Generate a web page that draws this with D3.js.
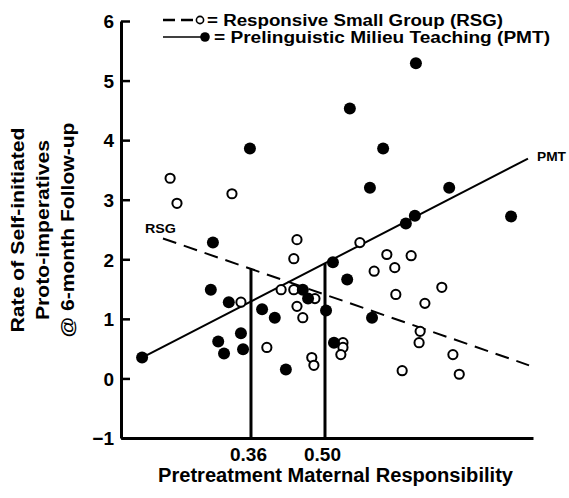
<!DOCTYPE html>
<html>
<head>
<meta charset="utf-8">
<script src="https://cdn.jsdelivr.net/npm/d3@7"></script>
<style>
  body { margin: 0; background: #fff; }
  svg text { font-family: "Liberation Sans", Arial, sans-serif; font-weight: bold; fill: #000; }
</style>
</head>
<body>
<div id="chart"></div>
<script>
// PMT (filled) points: maternal responsivity, rate at follow-up
const pmtX = [0.154, 0.288, 0.284, 0.318, 0.381, 0.341, 0.298, 0.309, 0.345, 0.358,
  0.405, 0.426, 0.458, 0.468, 0.502, 0.515, 0.542, 0.517, 0.547, 0.585,
  0.610, 0.589, 0.672, 0.735, 0.653, 0.670, 0.852];
const pmtY = [0.35, 2.28, 1.49, 1.28, 1.16, 0.76, 0.62, 0.42, 0.49, 3.86,
  1.02, 0.15, 1.49, 1.34, 1.14, 1.95, 1.66, 0.60, 4.53, 3.20,
  3.86, 1.02, 5.29, 3.20, 2.60, 2.73, 2.72];

// RSG (open) points
const rsgX = [0.207, 0.220, 0.324, 0.341, 0.390, 0.417, 0.441, 0.447, 0.441, 0.481,
  0.447, 0.458, 0.475, 0.479, 0.534, 0.534, 0.530, 0.566, 0.593, 0.617,
  0.632, 0.663, 0.634, 0.689, 0.721, 0.680, 0.678, 0.742, 0.646, 0.754];
const rsgY = [3.36, 2.94, 3.10, 1.28, 0.52, 1.49, 1.49, 2.33, 2.01, 1.34,
  1.21, 1.02, 0.35, 0.22, 0.60, 0.52, 0.40, 2.28, 1.80, 2.08,
  1.86, 2.06, 1.41, 1.26, 1.53, 0.79, 0.60, 0.40, 0.13, 0.07];

// regression line end points
const pmtLine = [[0.154, 0.35], [0.884, 3.69]];
const rsgLine = [[0.1935, 2.35], [0.886, 0.22]];

// region-of-significance cut points
const cutPoints = [0.36, 0.50];
const cutLabels = ['0.36', '0.50'];
const yTicks = [-1, 0, 1, 2, 3, 4, 5, 6];

const yTitle = ['Rate of Self-initiated', 'Proto-imperatives', '@ 6-month Follow-up'];
const xTitle = 'Pretreatment Maternal Responsibility';
const legendLabels = ['= Responsive Small Group (RSG)', '= Prelinguistic Milieu Teaching (PMT)'];

const W = 569, H = 498;
const margin = {left: 121, right: 533, top: 20, bottom: 438};

const svg = d3.select('#chart').append('svg')
  .attr('width', W)
  .attr('height', H);

const x = d3.scaleLinear().domain([0.1141, 0.8935]).range([margin.left, margin.right]);
const y = d3.scaleLinear().domain([-1, 6]).range([margin.bottom, margin.top + 1]);

// y axis, ticks pointing inward
const yAxis = svg.append('g')
  .attr('transform', `translate(${margin.left},0)`)
  .call(d3.axisLeft(y).tickValues(yTicks).tickFormat(d3.format('d'))
    .tickSizeInner(-9).tickSizeOuter(0).tickPadding(7));
yAxis.select('.domain').attr('stroke', '#000').attr('stroke-width', 3);
yAxis.selectAll('.tick line').attr('stroke', '#000').attr('stroke-width', 2.5);
yAxis.selectAll('.tick text')
  .style('font-size', '19px')
  .attr('dy', '0.36em');

// x axis, only the two cut points labelled
const xAxis = svg.append('g')
  .attr('transform', `translate(0,${margin.bottom})`)
  .call(d3.axisBottom(x).tickValues(cutPoints).tickFormat((d, i) => cutLabels[i])
    .tickSize(0).tickPadding(10));
xAxis.select('.domain').attr('stroke', '#000').attr('stroke-width', 3);
xAxis.selectAll('.tick text')
  .style('font-size', '19px')
  .attr('dx', -3);

// titles
svg.append('text')
  .attr('x', 158)
  .attr('y', 482)
  .attr('textLength', 355)
  .attr('lengthAdjust', 'spacingAndGlyphs')
  .style('font-size', '20px')
  .text(xTitle);

const yTitleLen = [205, 180, 215];
svg.append('g')
  .attr('transform', 'translate(0,230) rotate(-90)')
  .selectAll('text')
  .data(yTitle)
  .join('text')
  .attr('x', (d, i) => -yTitleLen[i] / 2)
  .attr('y', (d, i) => 24 + i * 25)
  .attr('textLength', (d, i) => yTitleLen[i])
  .attr('lengthAdjust', 'spacingAndGlyphs')
  .style('font-size', '19px')
  .text(d => d);

// regression lines
const line = d3.line().x(d => x(d[0])).y(d => y(d[1]));
svg.append('path')
  .datum(rsgLine)
  .attr('d', line)
  .attr('fill', 'none')
  .attr('stroke', '#000')
  .attr('stroke-width', 2)
  .attr('stroke-dasharray', '14,8');
svg.append('path')
  .datum(pmtLine)
  .attr('d', line)
  .attr('fill', 'none')
  .attr('stroke', '#000')
  .attr('stroke-width', 2);

// vertical lines up to the regression lines
const lineAt = (seg, v) => seg[0][1] + (seg[1][1] - seg[0][1]) * (v - seg[0][0]) / (seg[1][0] - seg[0][0]);
const cutTops = [lineAt(rsgLine, cutPoints[0]), lineAt(pmtLine, cutPoints[1])];
svg.selectAll('.cut')
  .data(cutPoints)
  .join('line')
  .attr('class', 'cut')
  .attr('x1', d => x(d))
  .attr('x2', d => x(d))
  .attr('y1', y(-1))
  .attr('y2', (d, i) => y(cutTops[i]))
  .attr('stroke', '#000')
  .attr('stroke-width', 3);

// line labels
svg.append('text')
  .attr('x', x(rsgLine[0][0]) - 18)
  .attr('y', y(rsgLine[0][1]) - 5)
  .attr('textLength', 31)
  .attr('lengthAdjust', 'spacingAndGlyphs')
  .style('font-size', '13px')
  .text('RSG');
svg.append('text')
  .attr('x', x(pmtLine[1][0]) + 9)
  .attr('y', y(pmtLine[1][1]) + 2)
  .attr('textLength', 29)
  .attr('lengthAdjust', 'spacingAndGlyphs')
  .style('font-size', '13px')
  .text('PMT');

// points
svg.append('g')
  .selectAll('circle')
  .data(rsgX.map((d, i) => [d, rsgY[i]]))
  .join('circle')
  .attr('cx', d => x(d[0]))
  .attr('cy', d => y(d[1]))
  .attr('r', 4.6)
  .attr('fill', '#fff')
  .attr('stroke', '#000')
  .attr('stroke-width', 2);

svg.append('g')
  .selectAll('circle')
  .data(pmtX.map((d, i) => [d, pmtY[i]]))
  .join('circle')
  .attr('cx', d => x(d[0]))
  .attr('cy', d => y(d[1]))
  .attr('r', 6)
  .attr('fill', '#000');

// legend
const legendText = [{x: 207, len: 296}, {x: 214, len: 336}];
const legendRows = svg.append('g')
  .selectAll('g')
  .data(legendLabels)
  .join('g')
  .attr('transform', (d, i) => `translate(0,${20 + i * 17})`);
legendRows.append('line')
  .attr('x1', 163)
  .attr('x2', (d, i) => i === 0 ? 196 : 201)
  .attr('stroke', '#000')
  .attr('stroke-width', (d, i) => i === 0 ? 2.5 : 1.5)
  .attr('stroke-dasharray', (d, i) => i === 0 ? '12,6' : null);
legendRows.append('circle')
  .attr('cx', (d, i) => i === 0 ? 200 : 205)
  .attr('r', (d, i) => i === 0 ? 3.6 : 4.8)
  .attr('fill', (d, i) => i === 0 ? '#fff' : '#000')
  .attr('stroke', '#000')
  .attr('stroke-width', (d, i) => i === 0 ? 1.6 : 0);
legendRows.append('text')
  .attr('x', (d, i) => legendText[i].x)
  .attr('dy', '0.36em')
  .attr('textLength', (d, i) => legendText[i].len)
  .attr('lengthAdjust', 'spacingAndGlyphs')
  .style('font-size', '16px')
  .text(d => d);
</script>
</body>
</html>
